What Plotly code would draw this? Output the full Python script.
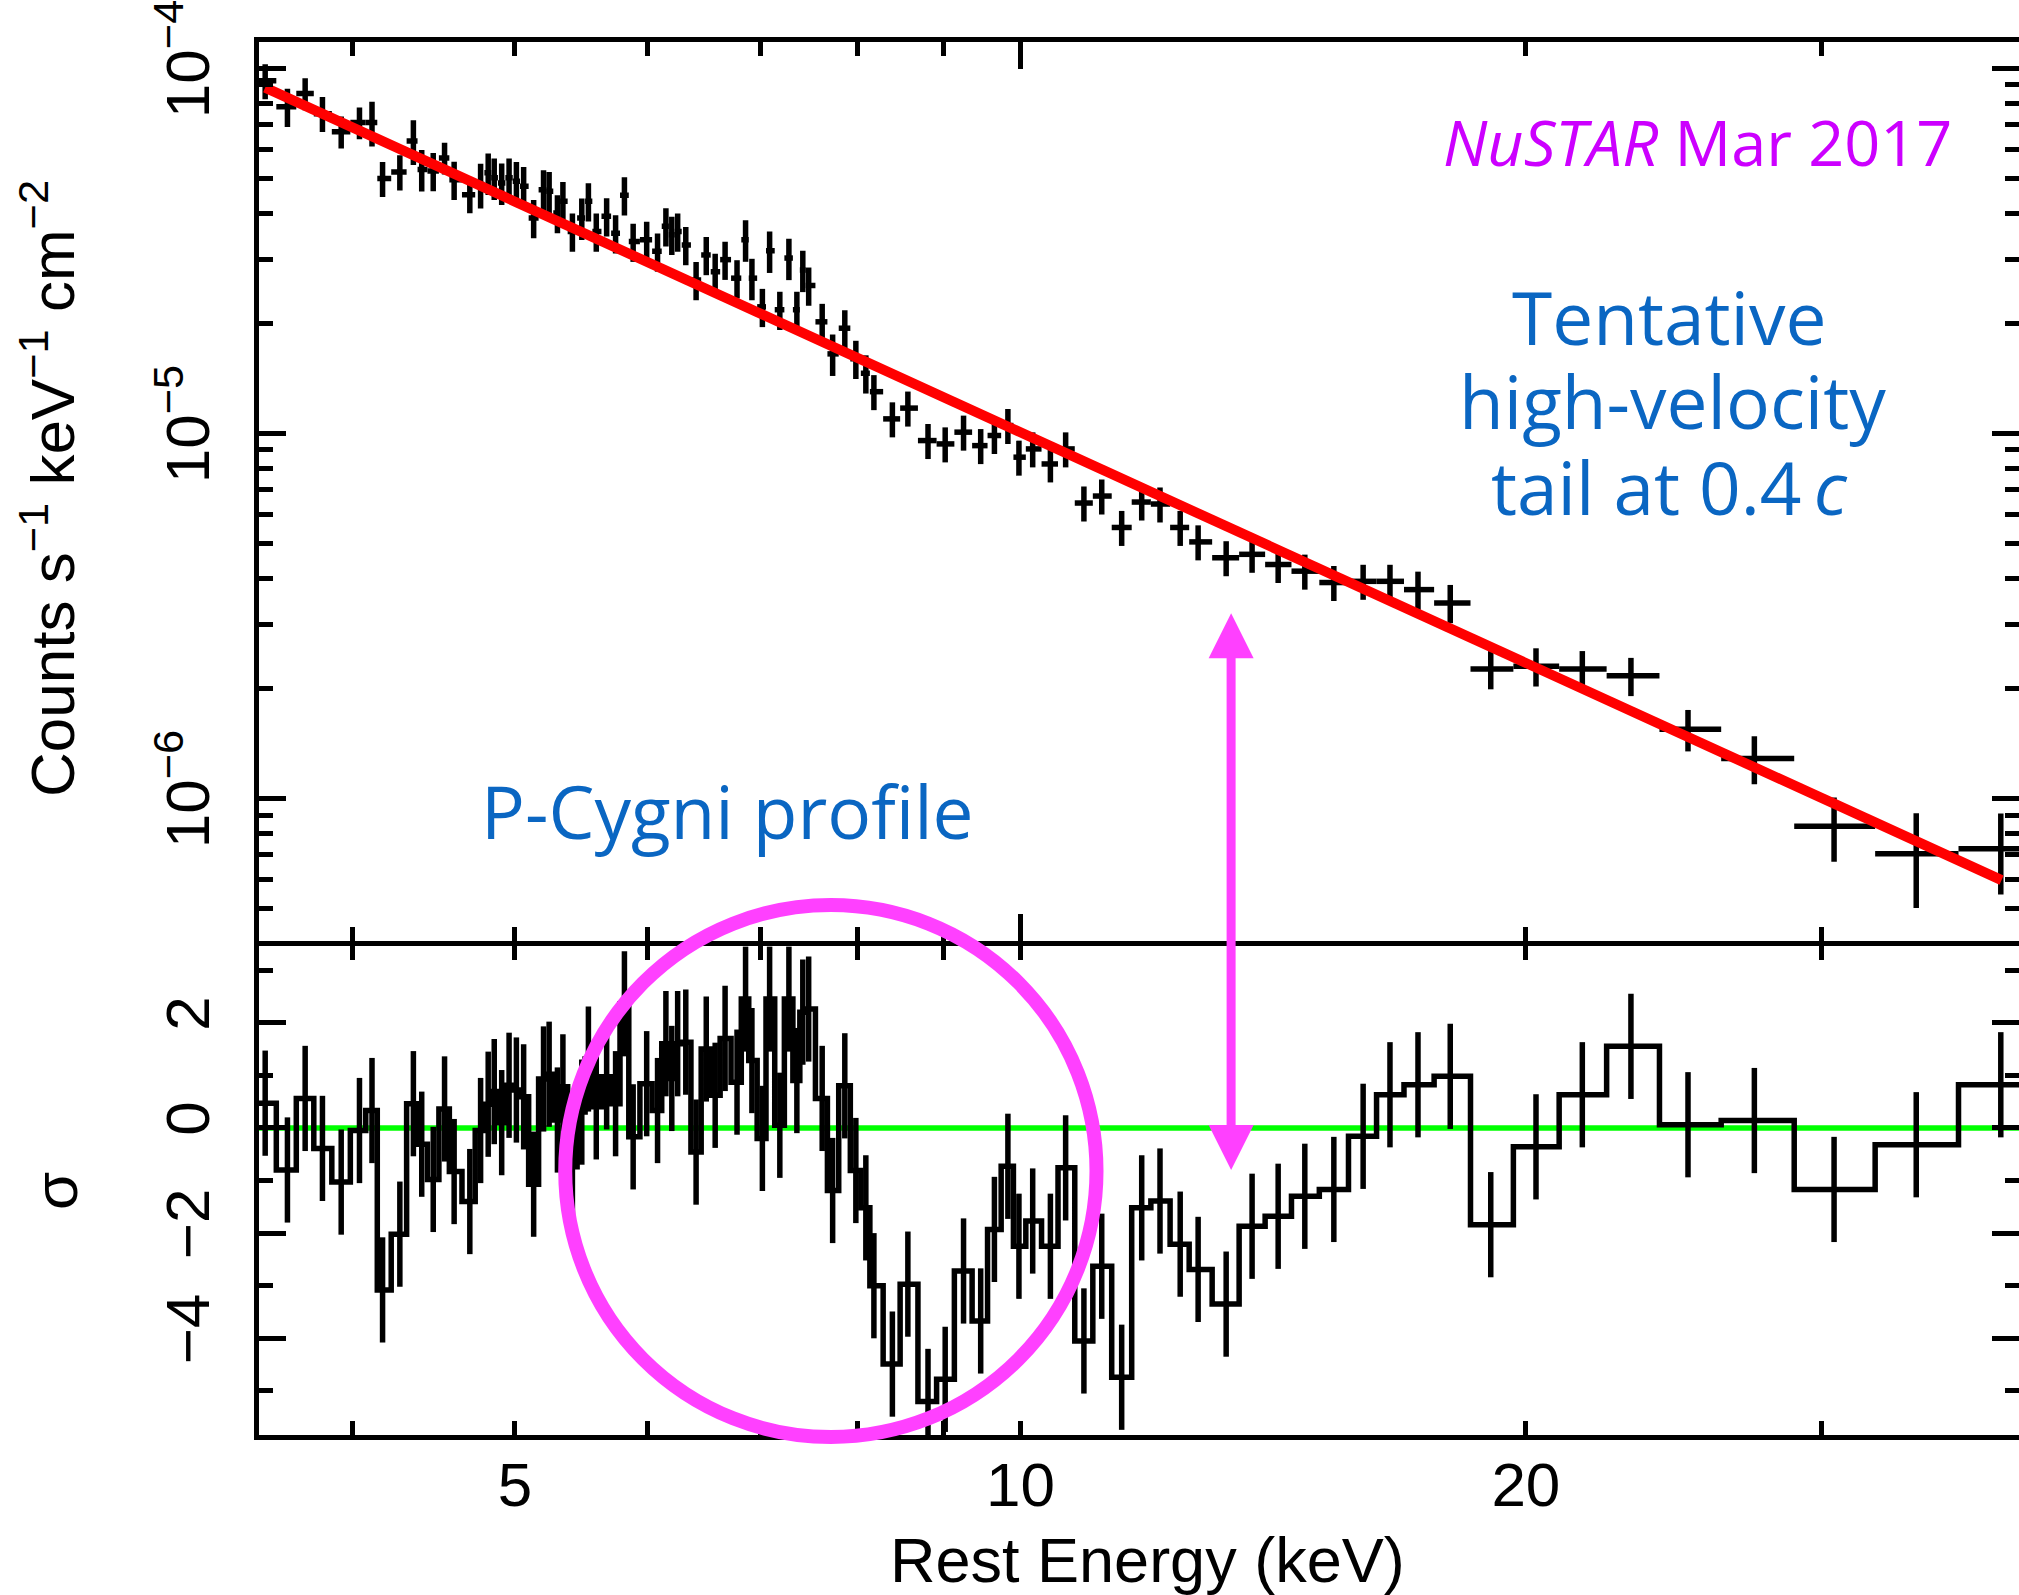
import numpy as np
import plotly.graph_objects as go

# ---------------- data ----------------
energy_keV = [
    3.55, 3.66, 3.75, 3.84, 3.94, 4.04, 4.11, 4.17, 4.27, 4.35,
    4.40, 4.47, 4.54, 4.60, 4.70, 4.77, 4.82, 4.86, 4.91, 4.96,
    5.01, 5.06, 5.13, 5.20, 5.24, 5.30, 5.34, 5.41, 5.48, 5.53,
    5.59, 5.67, 5.74, 5.81, 5.88, 5.99, 6.08, 6.15, 6.20, 6.25,
    6.32, 6.41, 6.50, 6.58, 6.67, 6.78, 6.86, 6.92, 7.02, 7.09,
    7.19, 7.28, 7.36, 7.42, 7.48, 7.62, 7.73, 7.86, 7.98, 8.09,
    8.18, 8.39, 8.57, 8.81, 9.02, 9.25, 9.47, 9.65, 9.83, 9.98,
    10.17, 10.42, 10.64, 10.91, 11.18, 11.49, 11.81, 12.11, 12.45, 12.76,
    13.26, 13.74, 14.24, 14.77, 15.37, 16.00, 16.60, 17.25, 18.03, 19.06,
    20.28, 21.61, 23.10, 24.98, 27.36, 30.52, 34.16, 38.36]

counts = [
    9.24e-5, 7.84e-5, 8.53e-5, 7.51e-5, 6.70e-5, 7.10e-5, 7.10e-5, 4.99e-5, 5.20e-5, 6.32e-5,
    5.28e-5, 5.23e-5, 5.68e-5, 4.95e-5, 4.50e-5, 4.80e-5, 5.17e-5, 5.01e-5, 4.85e-5, 5.01e-5,
    4.90e-5, 4.75e-5, 3.89e-5, 4.65e-5, 4.60e-5, 4.01e-5, 4.32e-5, 3.57e-5, 3.89e-5, 4.32e-5,
    3.57e-5, 3.93e-5, 3.53e-5, 4.49e-5, 3.35e-5, 3.39e-5, 3.15e-5, 3.69e-5, 3.50e-5, 3.57e-5,
    3.28e-5, 2.63e-5, 3.08e-5, 2.77e-5, 2.99e-5, 2.66e-5, 3.39e-5, 2.66e-5, 2.22e-5, 3.16e-5,
    2.18e-5, 3.02e-5, 2.18e-5, 2.80e-5, 2.54e-5, 2.02e-5, 1.65e-5, 1.94e-5, 1.60e-5, 1.46e-5,
    1.30e-5, 1.095e-5, 1.172e-5, 9.55e-6, 9.35e-6, 1.007e-5, 9.25e-6, 9.86e-6, 1.05e-5, 8.60e-6,
    9.06e-6, 8.24e-6, 9.06e-6, 6.44e-6, 6.73e-6, 5.52e-6, 6.48e-6, 6.40e-6, 5.52e-6, 5.04e-6,
    4.56e-6, 4.66e-6, 4.37e-6, 4.19e-6, 3.90e-6, 3.93e-6, 3.93e-6, 3.73e-6, 3.43e-6, 2.26e-6,
    2.30e-6, 2.26e-6, 2.165e-6, 1.545e-6, 1.286e-6, 8.38e-7, 7.05e-7, 7.27e-7]

counts_err_frac = [
    0.11, 0.12, 0.10, 0.11, 0.10, 0.10, 0.14, 0.11, 0.11, 0.14,
    0.13, 0.12, 0.10, 0.12, 0.11, 0.14, 0.13, 0.13, 0.13, 0.13,
    0.13, 0.13, 0.12, 0.13, 0.13, 0.12, 0.13, 0.12, 0.13, 0.12,
    0.12, 0.12, 0.12, 0.12, 0.12, 0.12, 0.12, 0.12, 0.12, 0.12,
    0.12, 0.12, 0.12, 0.12, 0.12, 0.12, 0.13, 0.13, 0.12, 0.13,
    0.12, 0.13, 0.12, 0.13, 0.12, 0.12, 0.13, 0.12, 0.12, 0.12,
    0.11, 0.11, 0.11, 0.11, 0.11, 0.11, 0.11, 0.11, 0.11, 0.11,
    0.11, 0.11, 0.11, 0.11, 0.11, 0.11, 0.11, 0.11, 0.11, 0.11,
    0.11, 0.11, 0.11, 0.11, 0.11, 0.11, 0.11, 0.12, 0.12, 0.12,
    0.12, 0.12, 0.12, 0.13, 0.15, 0.20, 0.29, 0.25]

residual_sigma = [
    0.47, -0.80, 0.56, -0.39, -1.03, -0.05, 0.33, -3.08, -2.02, 0.46,
    -0.31, -0.98, 0.36, -0.83, -1.40, -0.05, 0.45, 0.69, 0.10, 0.81,
    0.72, 0.59, -1.07, 0.93, 1.02, 0.15, 0.78, -0.74, 0.30, 1.31,
    0.40, 0.97, 0.46, 2.36, -0.17, 0.84, 0.33, 1.60, 0.94, 1.60,
    1.63, -0.46, 1.50, 0.62, 1.70, 0.87, 2.45, 1.28, -0.20, 2.45,
    0.05, 2.45, 0.90, 2.20, 2.26, 0.56, -1.19, 0.80, -0.81, -1.52,
    -3.00, -4.49, -2.97, -5.20, -4.78, -2.72, -3.67, -1.93, -0.73, -2.25,
    -1.77, -2.25, -0.76, -4.05, -2.63, -4.74, -1.52, -1.39, -2.21, -2.69,
    -3.35, -1.87, -1.68, -1.30, -1.17, -0.16, 0.63, 0.82, 0.98, -1.84,
    -0.36, 0.63, 1.55, 0.06, 0.14, -1.17, -0.32, 0.82]

model_energy_keV = [3.55, 38.4]
model_counts = [8.85e-5, 5.97e-7]

x_range_keV = [3.52, 39.33]
x_major_ticks = [10]
x_minor_ticks_top = [4, 5, 6, 7, 8, 9, 20, 30]
x_label_ticks = [5, 10, 20]
x_label_text = ["5", "10", "20"]
x_minor_ticks_bottom = [4, 6, 7, 8, 9, 30]

y_top_range = [4.06e-7, 1.18e-4]
y_top_major = [1e-6, 1e-5, 1e-4]
y_top_text = ["10<sup>\u22126</sup>", "10<sup>\u22125</sup>", "10<sup>\u22124</sup>"]
y_top_minor = [5e-7, 6e-7, 7e-7, 8e-7, 9e-7,
               2e-6, 3e-6, 4e-6, 5e-6, 6e-6, 7e-6, 8e-6, 9e-6,
               2e-5, 3e-5, 4e-5, 5e-5, 6e-5, 7e-5, 8e-5, 9e-5]

y_bot_range = [-5.838, 3.454]
y_bot_major = [-4, -2, 0, 2]
y_bot_text = ["\u22124", "\u22122", "0", "2"]
y_bot_minor = [-5, -3, -1, 1, 3]

circle_keV = [5.357, 11.10]
arrow_keV = 13.35

# ---------------- derived ----------------
E = np.array(energy_keV)
F = np.array(counts)
R = np.array(residual_sigma)
logE = np.log10(E)
mid = (logE[:-1] + logE[1:]) / 2
edges = 10 ** np.concatenate([[2 * logE[0] - mid[0]], mid, [2 * logE[-1] - mid[-1]]])
xerr_minus = E - edges[:-1]
xerr_plus = edges[1:] - E
yerr = F * np.array(counts_err_frac)

W, H = 2019, 1595
ML, MR, MT, MB = 259, 0, 42, 160
PW, PH = W - ML - MR, H - MT - MB


def px_to_paper_x(px):
    return (px - ML) / PW


def px_to_paper_y(py):
    return (H - MB - py) / PH


top_dom = [px_to_paper_y(941.2), 1.0]
bot_dom = [0.0, px_to_paper_y(946.2)]

LW = 5.5
AX_LW = 4.5
TICKFONT = dict(family="Liberation Sans, Arial, Helvetica", size=62, color="black")

fig = go.Figure()

# upper panel: data crosses
fig.add_trace(go.Scatter(
    x=E, y=F, mode="markers", marker=dict(size=1, color="black"),
    error_x=dict(type="data", symmetric=False, array=xerr_plus, arrayminus=xerr_minus,
                 width=0, thickness=LW, color="black"),
    error_y=dict(type="data", symmetric=True, array=yerr, width=0, thickness=LW, color="black"),
    xaxis="x", yaxis="y", showlegend=False, hoverinfo="skip"))
# model
fig.add_trace(go.Scatter(
    x=model_energy_keV, y=model_counts, mode="lines",
    line=dict(color="#FF0000", width=10), xaxis="x", yaxis="y",
    showlegend=False, hoverinfo="skip"))

# lower panel: zero line
fig.add_trace(go.Scatter(
    x=[3.4, 42], y=[0, 0], mode="lines", line=dict(color="#00FF00", width=5.5),
    xaxis="x2", yaxis="y2", showlegend=False, hoverinfo="skip"))
# residual histogram
fig.add_trace(go.Scatter(
    x=edges, y=np.append(R, R[-1]), mode="lines",
    line=dict(color="black", width=LW, shape="hv"),
    xaxis="x2", yaxis="y2", showlegend=False, hoverinfo="skip"))
fig.add_trace(go.Scatter(
    x=E, y=R, mode="markers", marker=dict(size=1, color="black"),
    error_y=dict(type="constant", value=1, width=0, thickness=LW, color="black"),
    xaxis="x2", yaxis="y2", showlegend=False, hoverinfo="skip"))

xr = [np.log10(x_range_keV[0]), np.log10(x_range_keV[1])]
common = dict(showline=True, linewidth=5, linecolor="black", ticks="inside",
              tickwidth=AX_LW, tickcolor="black", mirror="ticks", showgrid=False,
              zeroline=False, automargin=False, ticklabeloverflow="allow")

fig.update_layout(
    width=W, height=H, autosize=False,
    margin=dict(l=ML, r=MR, t=MT, b=MB, pad=0),
    paper_bgcolor="white", plot_bgcolor="white", template="none",
    showlegend=False,
    xaxis=dict(type="log", range=xr, domain=[0, 1], anchor="y",
               tickvals=x_major_ticks, ticklen=27, showticklabels=False,
               minor=dict(tickvals=x_minor_ticks_top, ticklen=14, tickwidth=AX_LW,
                          tickcolor="black", ticks="inside", showgrid=False),
               **common),
    xaxis2=dict(type="log", range=xr, domain=[0, 1], anchor="y2",
                tickvals=x_label_ticks, ticktext=x_label_text, ticklen=14,
                tickfont=TICKFONT, ticklabelstandoff=-8,
                minor=dict(tickvals=x_minor_ticks_bottom, ticklen=14, tickwidth=AX_LW,
                           tickcolor="black", ticks="inside", showgrid=False),
                **common),
    xaxis3=dict(type="log", range=xr, overlaying="x2", anchor="y2",
                tickvals=x_major_ticks, ticks="inside", ticklen=27, tickwidth=AX_LW,
                tickcolor="black", showticklabels=False, showline=False,
                mirror="ticks", showgrid=False, zeroline=False, automargin=False),
    yaxis=dict(type="log", range=[np.log10(y_top_range[0]), np.log10(y_top_range[1])],
               domain=top_dom, anchor="x",
               tickvals=y_top_major, ticktext=y_top_text, ticklen=27, tickangle=-90,
               tickfont=TICKFONT, ticklabelstandoff=20,
               minor=dict(tickvals=y_top_minor, ticklen=14, tickwidth=AX_LW,
                          tickcolor="black", ticks="inside", showgrid=False),
               **common),
    yaxis2=dict(type="linear", range=y_bot_range, domain=bot_dom, anchor="x2",
                tickvals=y_bot_major, ticktext=y_bot_text, ticklen=27, tickangle=-90,
                tickfont=TICKFONT, ticklabelstandoff=20,
                minor=dict(tickvals=y_bot_minor, ticklen=14, tickwidth=AX_LW,
                           tickcolor="black", ticks="inside", showgrid=False),
                **common),
)

MAG = "#FF40FF"
fig.add_shape(type="circle", xref="x2", yref="paper",
              x0=circle_keV[0], x1=circle_keV[1],
              y0=px_to_paper_y(1437), y1=px_to_paper_y(905),
              line=dict(color=MAG, width=14), layer="above")

ann_font = "Open Sans, Noto Sans, DejaVu Sans"
blue = "#0A66C2"
annotations = [
    dict(text="<i>NuSTAR</i> Mar 2017", x=px_to_paper_x(1697), y=px_to_paper_y(141.5),
         font=dict(family=ann_font, size=63, color="#CC00FF")),
    dict(text="Tentative", x=px_to_paper_x(1669), y=px_to_paper_y(316),
         font=dict(family=ann_font, size=73, color=blue)),
    dict(text="high-velocity", x=px_to_paper_x(1672), y=px_to_paper_y(400),
         font=dict(family=ann_font, size=73, color=blue)),
    dict(text="tail at 0.4\u2009<i>c</i>", x=px_to_paper_x(1669), y=px_to_paper_y(486),
         font=dict(family=ann_font, size=73, color=blue)),
    dict(text="P-Cygni profile", x=px_to_paper_x(727), y=px_to_paper_y(810),
         font=dict(family=ann_font, size=73, color=blue)),
    dict(text="Counts s<sup>\u22121</sup> keV<sup>\u22121</sup> cm<sup>\u22122</sup>",
         x=px_to_paper_x(48), y=px_to_paper_y(489), textangle=-90,
         font=dict(family="Liberation Sans, Arial, Helvetica", size=62, color="black")),
    dict(text="\u03c3", x=px_to_paper_x(55), y=px_to_paper_y(1191), textangle=-90,
         font=dict(family="Liberation Sans, Arial, Helvetica", size=62, color="black")),
    dict(text="Rest Energy (keV)", x=px_to_paper_x(1147), y=px_to_paper_y(1560),
         font=dict(family="Liberation Sans, Arial, Helvetica", size=63, color="black")),
]
for a in annotations:
    a.update(xref="paper", yref="paper", showarrow=False, xanchor="center", yanchor="middle")
    fig.add_annotation(**a)

# double-headed arrow
fig.add_annotation(
    x=np.log10(arrow_keV), y=px_to_paper_y(1170), xref="x", yref="paper",
    ax=0, ay=-(1170 - 611.7), axref="pixel", ayref="pixel",
    text="", showarrow=True, arrowside="end+start",
    arrowhead=2, startarrowhead=2, arrowsize=1, startarrowsize=1,
    arrowwidth=9, arrowcolor=MAG, standoff=0, startstandoff=0)

fig.write_html("out.html")
